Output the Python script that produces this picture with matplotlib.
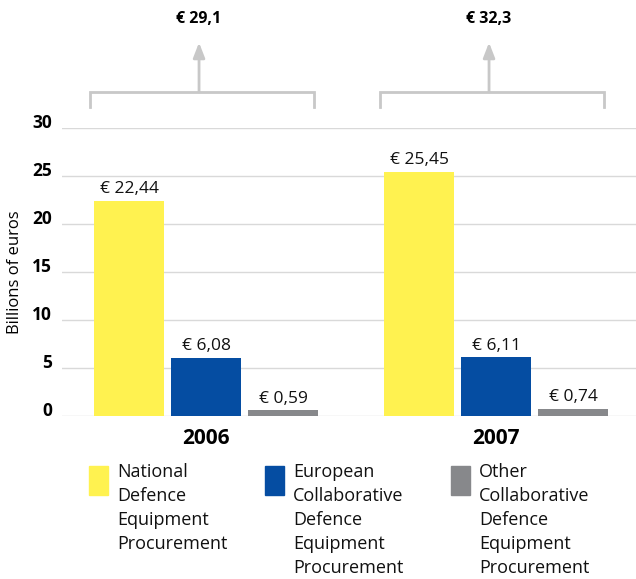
import numpy as np
import matplotlib
matplotlib.use('Agg')
import matplotlib.pyplot as plt
from matplotlib.patches import Rectangle

plt.rcParams['font.family'] = ['Open Sans', 'DejaVu Sans']

# data
years = ['2006', '2007']
categories = ['National\nDefence\nEquipment\nProcurement',
              'European\nCollaborative\nDefence\nEquipment\nProcurement',
              'Other\nCollaborative\nDefence\nEquipment\nProcurement']
values = {
    'national': [22.44, 25.45],
    'european': [6.08, 6.11],
    'other': [0.59, 0.74],
}
colors = ['#FFF250', '#054DA2', '#87888B']

W, H = 636, 579
fig = plt.figure(figsize=(W / 100, H / 100), dpi=100)
ax = fig.add_axes([62 / W, 1 - 416 / H, (W - 62) / W, 288 / H])

x = np.arange(len(years))
width = 70 / 290
step = 77 / 290
series = list(values.values())
for i, vals in enumerate(series):
    pos = x + (i - 1) * step
    ax.bar(pos, vals, width=width, color=colors[i], zorder=3)
    for px, v in zip(pos, vals):
        ax.text(px, v + 0.8, '€ ' + f'{v:.2f}'.replace('.', ','),
                ha='center', va='baseline', fontsize=12.5, color='#111111')

ax.set_xlim((62 - 206) / 290, (636 - 206) / 290)
ax.set_ylim(0, 30)
ax.set_yticks([0, 5, 10, 15, 20, 25, 30])
ax.yaxis.grid(True, color='#D9D9D9', linewidth=1.0, zorder=0)
ax.tick_params(axis='y', length=0, pad=7, labelsize=12.5)
for lab in ax.get_yticklabels():
    lab.set_fontweight('bold')
    lab.set_verticalalignment('baseline')
ax.set_xticks(x)
ax.set_xticklabels(years, fontsize=15, fontweight='bold')
ax.tick_params(axis='x', length=0, pad=9)
for s in ax.spines.values():
    s.set_visible(False)

# totals with brackets
totals = np.sum(series, axis=0)
bc = '#C8C8C8'
for xi, t in zip(x, totals):
    l, r, m = xi - 0.40, xi + 0.373, xi - 0.024
    ax.plot([l, l, r, r], [32.2, 33.75, 33.75, 32.2], color=bc, lw=2,
            clip_on=False, solid_joinstyle='miter')
    ax.annotate('', xy=(m, 38.9), xytext=(m, 33.75), annotation_clip=False,
                arrowprops=dict(arrowstyle='-|>,head_length=0.9,head_width=0.35',
                                color=bc, lw=2, shrinkA=0, shrinkB=0))
    ax.text(m, 40.95, '€ ' + f'{t:.1f}'.replace('.', ','), ha='center',
            va='baseline', fontsize=11.5, fontweight='bold', clip_on=False)

fig.text(15 / W, 1 - 272 / H, 'Billions of euros', rotation=90,
         ha='center', va='center', fontsize=12)

# legend
box_x = [89, 265, 451]
for bx, c, lab in zip(box_x, colors, categories):
    fig.patches.append(Rectangle((bx / W, 1 - 495 / H), 19 / W, 29 / H,
                                 transform=fig.transFigure, color=c))
    for k, line in enumerate(lab.split('\n')):
        fig.text((bx + 28) / W, 1 - (477 + 24.0 * k) / H, line,
                 ha='left', va='baseline', fontsize=13, color='#111111')

fig.savefig('out.png', dpi=100)
